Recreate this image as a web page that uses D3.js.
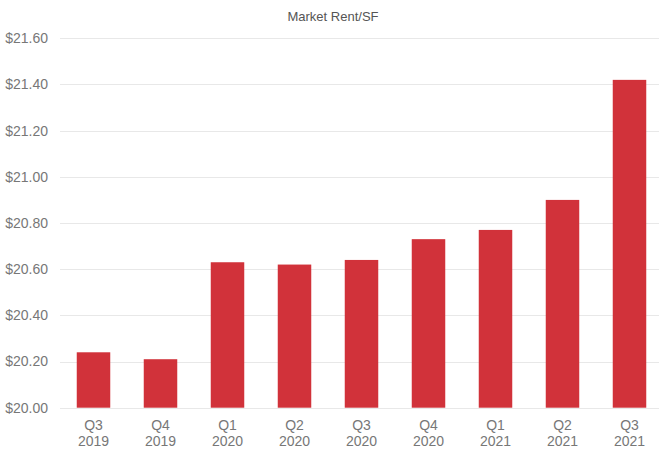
<!DOCTYPE html>
<html>
<head>
<meta charset="UTF-8">
<script src="https://cdn.jsdelivr.net/npm/d3@7"></script>
<style>
  body { margin: 0; background: #fff; }
  text { font-family: "Liberation Sans", Arial, sans-serif; }
</style>
</head>
<body>
<script>
var quarters = ["Q3", "Q4", "Q1", "Q2", "Q3", "Q4", "Q1", "Q2", "Q3"];
var years = ["2019", "2019", "2020", "2020", "2020", "2020", "2021", "2021", "2021"];
var rent = [20.24, 20.21, 20.63, 20.62, 20.64, 20.73, 20.77, 20.90, 21.42];
var yTicks = [20.0, 20.2, 20.4, 20.6, 20.8, 21.0, 21.2, 21.4, 21.6];

var w = 659, h = 449;
var svg = d3.select("body").append("svg").attr("width", w).attr("height", h);

var keys = rent.map(function(d, i) { return i; });
var x = d3.scaleBand().domain(keys).range([60, 663]).paddingInner(0.5).paddingOuter(0.25);
var y = d3.scaleLinear().domain([20, 21.6]).range([407.7, 38.3]);

// gridlines
svg.append("g").selectAll("line").data(yTicks).enter().append("line")
  .attr("x1", 60).attr("x2", w)
  .attr("y1", function(d) { return Math.round(y(d)) + 0.5; })
  .attr("y2", function(d) { return Math.round(y(d)) + 0.5; })
  .attr("stroke", "#e8e8e8").attr("stroke-width", 1);

// y labels
svg.append("g").selectAll("text").data(yTicks).enter().append("text")
  .attr("x", 48).attr("y", function(d) { return y(d); })
  .attr("dy", "0.35em").attr("text-anchor", "end")
  .attr("font-size", 14).attr("fill", "#777")
  .text(function(d) { return "$" + d.toFixed(2); });

// bars
svg.append("g").selectAll("rect").data(rent).enter().append("rect")
  .attr("x", function(d, i) { return x(i); })
  .attr("width", x.bandwidth())
  .attr("y", function(d) { return y(d); })
  .attr("height", function(d) { return y(20) - y(d); })
  .attr("fill", "#d1323a");

// x labels
var xl = svg.append("g").selectAll("text").data(keys).enter().append("text")
  .attr("x", function(d) { return x(d) + x.bandwidth() / 2; })
  .attr("text-anchor", "middle").attr("font-size", 14).attr("fill", "#777");
xl.append("tspan").attr("x", function(d) { return x(d) + x.bandwidth() / 2; })
  .attr("y", 430).text(function(d) { return quarters[d]; });
xl.append("tspan").attr("x", function(d) { return x(d) + x.bandwidth() / 2; })
  .attr("y", 446).text(function(d) { return years[d]; });

// title
svg.append("text").attr("x", 333).attr("y", 21)
  .attr("text-anchor", "middle").attr("font-size", 13).attr("fill", "#555")
  .text("Market Rent/SF");
</script>
</body>
</html>
